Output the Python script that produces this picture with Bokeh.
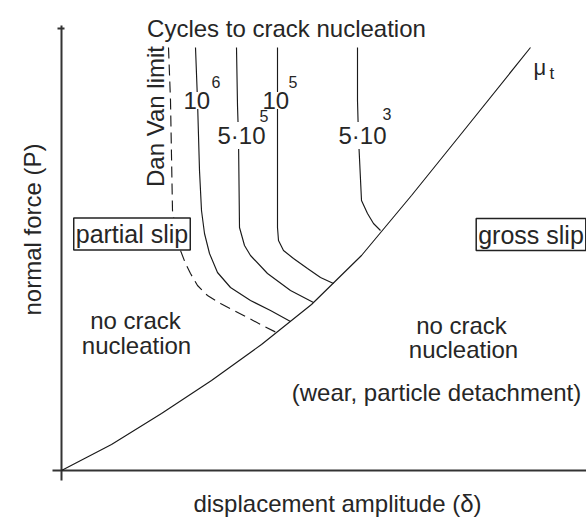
import math
from bokeh.plotting import figure
from bokeh.models import Label, Range1d
from bokeh.embed import file_html
from bokeh.resources import INLINE

# ---- schematic data: displacement amplitude (delta) vs normal force (P) ----
# slip boundary (mu_t)
mu_t_x = [0, 50, 100, 150, 200, 250, 300, 350, 400, 469]
mu_t_y = [0, 26, 57, 90, 126, 166, 215, 275, 337, 423]

# iso-lines of cycles to crack nucleation
n1e6_x = [134, 136, 138, 140, 143, 148, 156, 169, 189, 209, 229]
n1e6_y = [423, 370, 300, 260, 237, 217, 198, 183, 170, 160, 149]
n5e5_x = [175, 176, 177, 178, 183, 189, 206, 229, 252]
n5e5_y = [423, 365, 333, 243, 225, 215, 197, 180, 168]
n1e5_x = [216, 216, 216, 217, 222, 232, 246, 259, 272]
n1e5_y = [423, 370, 243, 230, 220, 212, 202, 193, 187]
n5e3_x = [296, 296, 297, 300, 306, 312, 319]
n5e3_y = [423, 370, 333, 270, 257, 247, 240]

# Dan Van limit (dashed)
dv_x = [107, 109, 111, 115, 119, 124, 129, 136, 146, 159, 186, 201, 217]
dv_y = [423, 370, 260, 235, 220, 207, 197, 185, 175, 167, 153, 145, 137]

# axis extents
x_axis_x = [-9, 525]
y_axis_y = [-10, 445]
y_cap_x = [-4, 3]
y_cap_y = 442

FONT = "Liberation Sans"
INK = "#1a1a1a"
TXT = "#262626"

p = figure(width=586, height=517, x_range=Range1d(-61, 525), y_range=Range1d(-47, 470),
           x_axis_type=None, y_axis_type=None, toolbar_location=None,
           output_backend="svg", min_border=0)
p.grid.visible = False
p.outline_line_color = None
p.background_fill_color = "white"
p.border_fill_color = "white"

# axes
p.line(x_axis_x, [0, 0], line_color="#333333", line_width=2)
p.line([0, 0], y_axis_y, line_color="#333333", line_width=2)
p.line(y_cap_x, [y_cap_y, y_cap_y], line_color="#333333", line_width=2)

# curves
p.line(mu_t_x, mu_t_y, line_color=INK, line_width=1.15)
for xs, ys in [(n1e6_x, n1e6_y), (n5e5_x, n5e5_y), (n1e5_x, n1e5_y), (n5e3_x, n5e3_y)]:
    p.line(xs, ys, line_color=INK, line_width=1.15)
p.line(dv_x, dv_y, line_color=INK, line_width=1.15, line_dash="11 6")


def lab(x, y, text, size="24px", align="left", baseline="alphabetic", angle=0, bg=None, border=None, pad=0):
    kw = dict(x=x, y=y, text=text, text_font=FONT, text_font_size=size, text_color=TXT,
              text_align=align, text_baseline=baseline, angle=angle)
    if bg:
        kw["background_fill_color"] = bg
    if border:
        kw["border_line_color"] = border
        kw["border_line_width"] = 1.5
    if pad:
        kw["padding"] = pad
    p.add_layout(Label(**kw))


lab(225, 442, "Cycles to crack nucleation", align="center")
# iso-line labels
lab(122, 370, "10", bg="white")
lab(150, 389, "6", size="16px")
lab(201, 370, "10", bg="white")
lab(227, 389, "5", size="16px")
lab(156, 335, "5\u00b710", bg="white")
lab(198, 355, "5", size="16px")
lab(277, 335, "5\u00b710", bg="white")
lab(321, 357, "3", size="16px")

lab(94, 354, "Dan Van limit", align="center", baseline="middle", angle=math.pi / 2)
lab(-29, 241, "normal force (P)", align="center", baseline="middle", angle=math.pi / 2)
lab(276, -33, "displacement amplitude (\u03b4)", align="center")

lab(70.5, 236.5, "partial slip", size="25px", align="center", baseline="middle", bg="white", border="#222222", pad=2)
lab(469.5, 236, "gross slip", size="25px", align="center", baseline="middle", bg="white", border="#222222", pad=2)

lab(74, 150, "no crack", align="center")
lab(75, 125, "nucleation", align="center")
lab(400, 145, "no crack", align="center")
lab(402, 121, "nucleation", align="center")
lab(375, 78, "(wear, particle detachment)", align="center")

lab(472, 403, "\u03bc", size="22px")
lab(488, 397, "t", size="17px")

open("out.html", "w").write(file_html(p, INLINE))
